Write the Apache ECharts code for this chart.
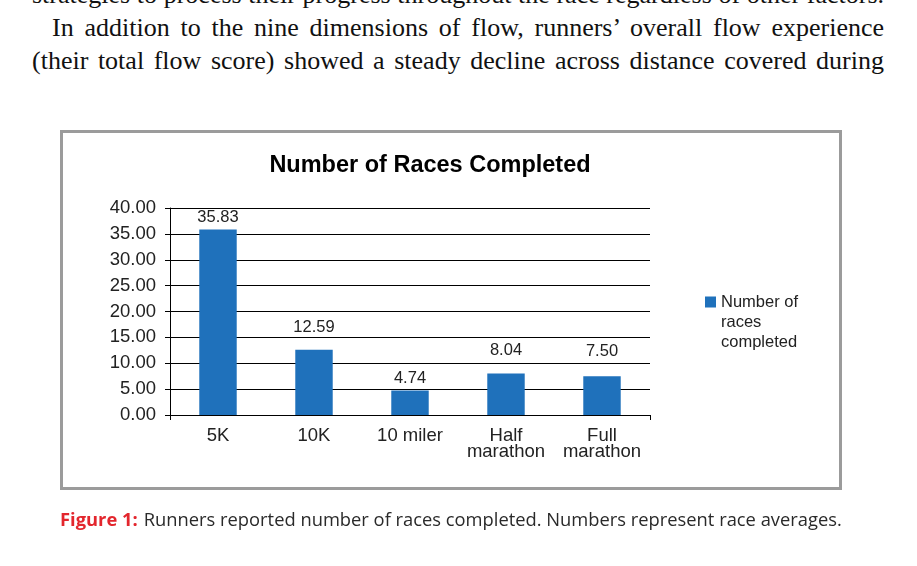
<!DOCTYPE html>
<html>
<head>
<meta charset="utf-8">
<script src="https://cdn.jsdelivr.net/npm/echarts@6/dist/echarts.min.js"></script>
<style>
  html, body { margin: 0; padding: 0; background: #fff; }
  #page { position: relative; width: 917px; height: 566px; overflow: hidden; background: #fff; }
  .line {
    position: absolute; left: 32px; width: 852px; height: 34px; line-height: 34px;
    font-family: "Liberation Serif", "DejaVu Serif", serif; font-size: 26px; color: #111;
    text-align: justify; text-align-last: justify; white-space: nowrap;
  }
  #frame {
    position: absolute; left: 60px; top: 130px; width: 776px; height: 354px;
    border: 3px solid #9b9b9b;
  }
  #chart { position: absolute; left: 0; top: 0; width: 917px; height: 566px; }
  #caption {
    position: absolute; left: 60px; top: 507px; white-space: nowrap; transform-origin: 0 0;
    font-family: "Open Sans", "Noto Sans", sans-serif; font-size: 18px; color: #2a2a2a;
  }
  #caption b { color: #e3262d; font-weight: 700; margin-right: 6px; }
</style>
</head>
<body>
<div id="page">
  <div class="line" style="top:-22px">strategies to process their progress throughout the race regardless of other factors.</div>
  <div class="line" style="top:11px; left:52px; width:832px">In addition to the nine dimensions of flow, runners’ overall flow experience</div>
  <div class="line" style="top:44px">(their total flow score) showed a steady decline across distance covered during</div>
  <div id="frame"></div>
  <div id="chart"></div>
  <div id="caption"><b>Figure 1:</b>Runners reported number of races completed. Numbers represent race averages.</div>
</div>
<script>
  const categories = ["5K", "10K", "10 miler", "Half\nmarathon", "Full\nmarathon"];
  const raceAverages = [35.83, 12.59, 4.74, 8.04, 7.50];
  const seriesName = "Number of races completed";
  const yTicks = { min: 0, max: 40, step: 5 };
  // Excel nudged some value labels up so they clear the gridlines
  const labelLift = [4, 14, 4, 14, 16];

  // squeeze the caption to the width it takes in the print
  const cap = document.getElementById("caption");
  cap.style.transform = "scaleX(" + (782 / cap.scrollWidth) + ")";

  const chart = echarts.init(document.getElementById("chart"));
  const font = "Liberation Sans, Arial, sans-serif";

  chart.setOption({
    animation: false,
    title: {
      text: "Number of Races Completed",
      left: 425, top: 149, textAlign: "center",
      textStyle: { fontFamily: font, fontSize: 23.5, fontWeight: "bold", color: "#000" }
    },
    legend: {
      left: 700, top: 247,
      itemWidth: 11, itemHeight: 11, icon: "rect",
      // blank lines first so the swatch sits beside the first line of text
      formatter: () => "\n\nNumber of\nraces\ncompleted",
      textStyle: { fontFamily: font, fontSize: 16.5, color: "#222", lineHeight: 20 }
    },
    grid: { left: 170, right: 267, top: 208, bottom: 151 },
    xAxis: {
      type: "category",
      data: categories,
      axisLine: { lineStyle: { color: "#000", width: 1 } },
      axisTick: { show: true, length: 5, interval: (i) => i === 0, lineStyle: { color: "#000" } },
      axisLabel: { interval: 0, fontFamily: font, fontSize: 18.5, color: "#222", margin: 13, lineHeight: 16 }
    },
    yAxis: {
      type: "value",
      min: yTicks.min, max: yTicks.max, interval: yTicks.step,
      axisLine: { show: true, lineStyle: { color: "#000", width: 1 } },
      axisTick: { show: true, length: 5, lineStyle: { color: "#000" } },
      splitLine: { lineStyle: { color: "#000", width: 1 } },
      axisLabel: { fontFamily: font, fontSize: 18.5, color: "#222", margin: 14, formatter: (v) => v.toFixed(2) }
    },
    series: [{
      name: seriesName,
      type: "bar",
      data: raceAverages.map((v, i) => ({ value: v, label: { distance: labelLift[i] } })),
      barWidth: "39%",
      itemStyle: { color: "#1f71bb" },
      label: {
        show: true, position: "top",
        fontFamily: font, fontSize: 16.5, color: "#222",
        formatter: (p) => p.value.toFixed(2)
      }
    }]
  });
</script>
</body>
</html>
